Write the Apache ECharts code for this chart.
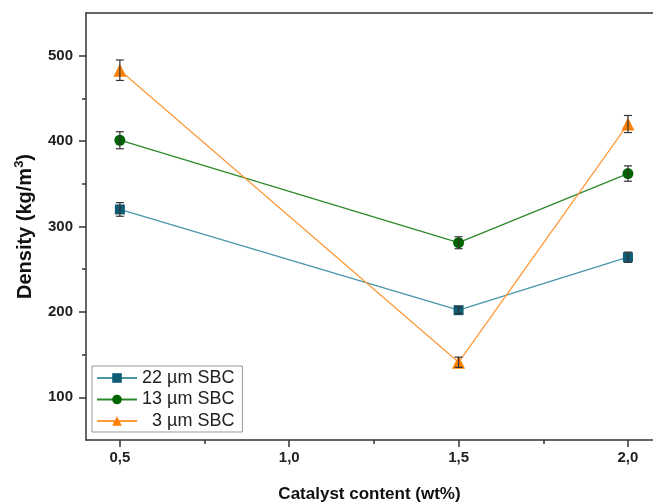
<!DOCTYPE html>
<html><head><meta charset="utf-8">
<script src="https://cdn.jsdelivr.net/npm/echarts@6/dist/echarts.min.js"></script>
<style>html,body{margin:0;padding:0;background:#fff}#c{width:653px;height:502px}</style>
</head><body><div id="c"></div>
<script>
const xValues = [0.5, 1.5, 2.0];
const seriesNames = ['22 µm SBC', '13 µm SBC', '\u20073 µm SBC'];
const d22 = [320, 202, 264];
const e22 = [8, 4, 6];
const d13 = [401, 281, 362];
const e13 = [10, 7, 9];
const d3 = [483, 141, 420];
const e3 = [12, 6, 10];
const xTicks = [0.5, 1.0, 1.5, 2.0];
const xMinorTicks = [0.75, 1.25, 1.75];
const yTicks = [100, 200, 300, 400, 500];
const yMinorTicks = [150, 250, 350, 450];

const lineColors = ['#4796a8', '#2b8a2b', '#ff9a3a'];
const markColors = ['#0f5c76', '#006400', '#ff7f00'];
const symbols = ['rect', 'circle', 'triangle'];
const symSizes = [10, 11, 13];
const vals = [d22, d13, d3];
const errs = [e22, e13, e3];

const font = 'Liberation Sans, Arial, sans-serif';
const axisCol = '#333';

const lineSeries = vals.map((v, i) => ({
  name: seriesNames[i], type: 'line', xAxisIndex: 0, yAxisIndex: 0,
  data: v.map((y, j) => [xValues[j], y]),
  symbol: symbols[i], symbolSize: symSizes[i], showSymbol: true,
  lineStyle: {color: lineColors[i], width: 1.3},
  itemStyle: {color: markColors[i]},
  z: 3, animation: false
}));

const errSeries = vals.map((v, i) => ({
  type: 'custom', xAxisIndex: 0, yAxisIndex: 0, z: 4, silent: true, animation: false,
  data: v.map((y, j) => [xValues[j], y - errs[i][j], y + errs[i][j]]),
  renderItem: function (params, api) {
    const lo = api.coord([api.value(0), api.value(1)]);
    const hi = api.coord([api.value(0), api.value(2)]);
    const w = 4;
    const st = {stroke: '#333', lineWidth: 1.2};
    return {type: 'group', children: [
      {type: 'line', shape: {x1: lo[0], y1: lo[1], x2: hi[0], y2: hi[1]}, style: st},
      {type: 'line', shape: {x1: lo[0]-w, y1: lo[1], x2: lo[0]+w, y2: lo[1]}, style: st},
      {type: 'line', shape: {x1: hi[0]-w, y1: hi[1], x2: hi[0]+w, y2: hi[1]}, style: st}
    ]};
  }
}));

const X_MIN = 0.4, X_MAX = 2.074;

const chart = echarts.init(document.getElementById('c'));
chart.setOption({
  backgroundColor: '#fff',
  animation: false,
  grid: {left: 86, top: 13, bottom: 62, right: 0, containLabel: false, outerBoundsMode: 'none'},
  legend: {
    orient: 'vertical', left: 92, top: 366,
    data: seriesNames,
    itemWidth: 40, itemHeight: 12, itemGap: 3.5,
    padding: [3, 8, 2, 4],
    borderColor: '#999', borderWidth: 1, backgroundColor: '#fff',
    textStyle: {fontSize: 18, color: '#222', fontFamily: font}
  },
  xAxis: [
    {type: 'value', position: 'bottom', min: X_MIN, max: X_MAX,
     name: 'Catalyst content (wt%)', nameLocation: 'middle', nameGap: 46,
     nameTextStyle: {fontSize: 17, fontWeight: 'bold', color: '#111', fontFamily: font},
     axisLine: {show: true, lineStyle: {color: axisCol, width: 1.5}},
     axisTick: {show: true, customValues: xTicks, length: 7, inside: false, lineStyle: {color: axisCol, width: 1.5}},
     axisLabel: {customValues: xTicks, margin: 10, fontSize: 15, fontWeight: 'bold', color: '#222', fontFamily: font,
       formatter: v => v.toFixed(1).replace('.', ',')},
     splitLine: {show: false}},
    {type: 'value', position: 'bottom', min: X_MIN, max: X_MAX,
     axisLine: {show: false},
     axisTick: {show: true, customValues: xMinorTicks, length: 4, lineStyle: {color: axisCol, width: 1.5}},
     axisLabel: {show: false}, splitLine: {show: false}},
    {type: 'value', position: 'top', min: X_MIN, max: X_MAX,
     axisLine: {show: true, lineStyle: {color: axisCol, width: 1.5}},
     axisTick: {show: false}, axisLabel: {show: false}, splitLine: {show: false}}
  ],
  yAxis: [
    {type: 'value', position: 'left', min: 50, max: 550,
     name: 'Density (kg/m{sup|3})', nameLocation: 'middle', nameGap: 48, nameRotate: 90,
     nameTextStyle: {fontSize: 20, fontWeight: 'bold', color: '#111', fontFamily: font,
       rich: {sup: {fontSize: 13, fontWeight: 'bold', color: '#111', fontFamily: font, verticalAlign: 'top', padding: [0, 0, 12, 0]}}},
     axisLine: {show: true, lineStyle: {color: axisCol, width: 1.5}},
     axisTick: {show: true, customValues: yTicks, length: 7, lineStyle: {color: axisCol, width: 1.5}},
     axisLabel: {customValues: yTicks, margin: 13, fontSize: 15, fontWeight: 'bold', color: '#222', fontFamily: font},
     splitLine: {show: false}},
    {type: 'value', position: 'left', min: 50, max: 550,
     axisLine: {show: false},
     axisTick: {show: true, customValues: yMinorTicks, length: 4, lineStyle: {color: axisCol, width: 1.5}},
     axisLabel: {show: false}, splitLine: {show: false}}
  ],
  series: [...errSeries, ...lineSeries]
});
</script></body></html>
